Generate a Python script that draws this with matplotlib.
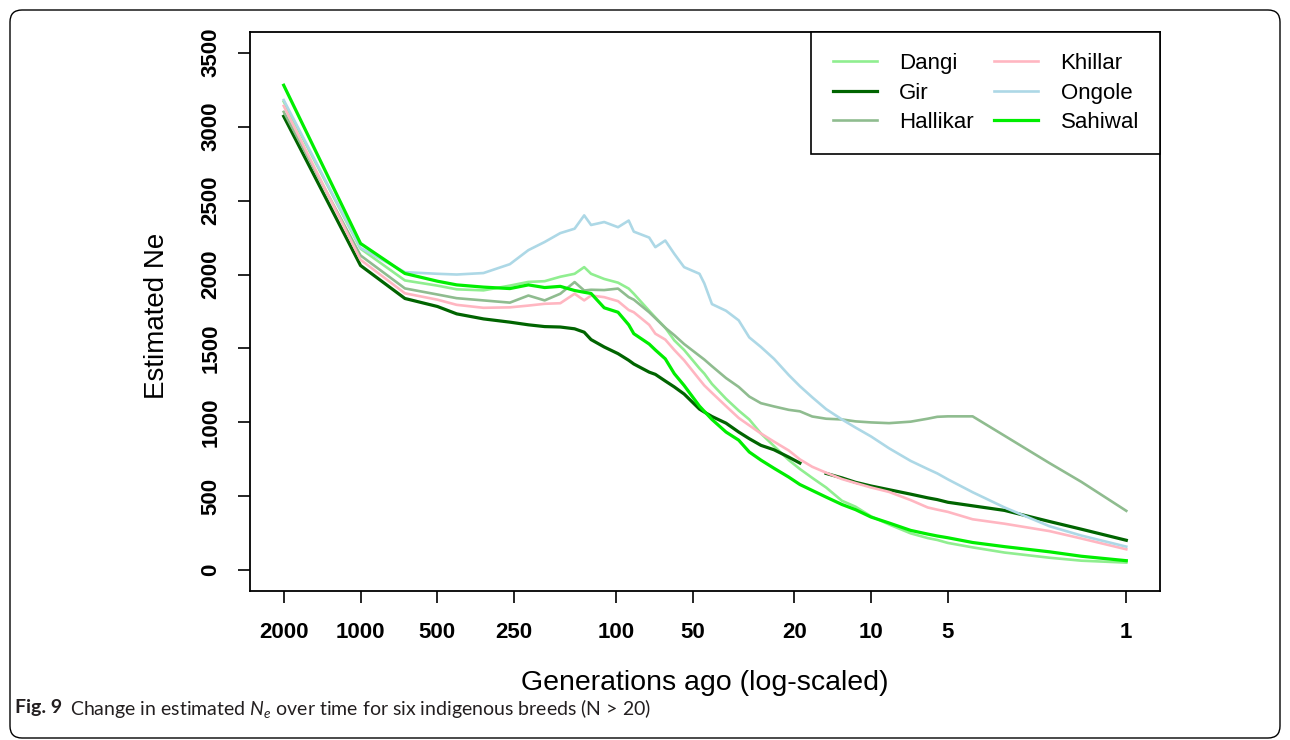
import numpy as np
import matplotlib
matplotlib.use("Agg")
import matplotlib.pyplot as plt
from matplotlib.patches import FancyBboxPatch
from matplotlib.ticker import NullLocator

plt.rcParams['font.family'] = ['Liberation Sans', 'DejaVu Sans']
plt.rcParams['mathtext.fontset'] = 'custom'
plt.rcParams['mathtext.rm'] = 'Lato'
plt.rcParams['mathtext.it'] = 'Lato:italic'

# generations ago
gens = [2000, 1000, 670, 500, 420, 330, 260, 220, 190, 165,
        145, 133, 125, 111, 98, 89, 85, 74, 70, 64,
        59, 54, 47, 45, 42, 37, 33, 30, 27, 24,
        21, 19, 17, 15, 13, 11.5, 10, 8.5, 7, 6,
        5.5, 5, 4, 3, 2, 1.5, 1]

dangi = [3170, 2175, 1960, 1925, 1900, 1893, 1925, 1950, 1955, 1985,
         2005, 2050, 2005, 1970, 1945, 1905, 1870, 1755, 1710, 1640,
         1555, 1490, 1365, 1330, 1260, 1160, 1080, 1020, 925, 840,
         745, 685, 625, 560, 470, 430, 365, 310, 250, 218,
         205, 185, 155, 120, 85, 65, 52]
gir = [3070, 2061, 1838, 1784, 1734, 1700, 1678, 1660, 1648, 1645,
       1633, 1610, 1560, 1510, 1465, 1420, 1395, 1340, 1325, 1280,
       1240, 1192, 1090, 1070, 1040, 995, 935, 890, 845, 815,
       765, 725, np.nan, 655, 625, 595, 570, 545, 515, 490,
       478, 460, 436, 405, 330, 278, 203]
hallikar = [3100, 2129, 1906, 1865, 1840, 1825, 1810, 1858, 1825, 1870,
            1949, 1892, 1897, 1895, 1905, 1847, 1830, 1745, 1705, 1640,
            1590, 1530, 1450, 1425, 1380, 1300, 1240, 1175, 1130, 1108,
            1085, 1075, 1040, 1025, 1020, 1007, 1000, 995, 1005, 1025,
            1038, 1041, 1041, 910, 725, 598, 402]
khillar = [3140, 2100, 1873, 1830, 1795, 1775, 1778, 1790, 1802, 1806,
           1870, 1825, 1858, 1847, 1820, 1760, 1745, 1660, 1600, 1560,
           1490, 1420, 1290, 1250, 1200, 1110, 1030, 980, 925, 870,
           810, 750, 700, 660, 617, 590, 560, 530, 475, 425,
           410, 395, 345, 315, 265, 215, 142]
ongole = [3180, 2180, 2016, 2005, 2000, 2010, 2070, 2165, 2220, 2280,
          2310, 2400, 2335, 2355, 2320, 2365, 2290, 2250, 2185, 2230,
          2140, 2050, 2005, 1940, 1800, 1755, 1690, 1575, 1510, 1430,
          1320, 1245, 1170, 1090, 1020, 965, 905, 825, 740, 685,
          655, 615, 528, 425, 298, 235, 160]
sahiwal = [3280, 2210, 2007, 1955, 1930, 1915, 1905, 1930, 1912, 1920,
           1892, 1880, 1872, 1775, 1745, 1660, 1600, 1530, 1490, 1430,
           1330, 1250, 1110, 1075, 1020, 935, 880, 800, 745, 690,
           630, 580, 540, 495, 445, 410, 360, 320, 270, 245,
           232, 220, 188, 160, 125, 95, 65]

breeds = ['Dangi', 'Gir', 'Hallikar', 'Khillar', 'Ongole', 'Sahiwal']
series = [dangi, gir, hallikar, khillar, ongole, sahiwal]
colors = ['lightgreen', 'darkgreen', 'darkseagreen', 'lightpink', 'lightblue', '#00ee00']
widths = [1.9, 2.3, 1.9, 1.9, 1.9, 2.3]

xticks = [2000, 1000, 500, 250, 100, 50, 20, 10, 5, 1]
yticks = [0, 500, 1000, 1500, 2000, 2500, 3000, 3500]

W, H = 1290, 740
fig = plt.figure(figsize=(W / 100, H / 100), dpi=100)
ax = fig.add_axes([250 / W, 1 - 591 / H, 910 / W, 559 / H])

for name, vals, col, lw in zip(breeds, series, colors, widths):
    ax.plot(gens, vals, color=col, lw=lw, label=name)

# R style 4% padding on each side
ax.set_xscale('log')
lo, hi = np.log10(min(gens)), np.log10(max(gens))
ext = 0.04 * (hi - lo)
ax.set_xlim(10 ** (hi + ext), 10 ** (lo - ext))
ax.set_ylim(-0.04 * 3500, 3500 * 1.04)

ax.set_xticks(xticks)
ax.set_xticklabels([str(t) for t in xticks])
ax.xaxis.set_minor_locator(NullLocator())
ax.set_yticks(yticks)
ax.set_yticklabels([str(t) for t in yticks], rotation=90, va='center')

ax.tick_params(axis='both', direction='out', length=8.5, width=1.2, labelsize=16, colors='black')
ax.tick_params(axis='x', pad=14)
ax.tick_params(axis='y', pad=12)
for lbl in ax.get_xticklabels() + ax.get_yticklabels():
    lbl.set_fontweight('bold')
for sp in ax.spines.values():
    sp.set_linewidth(1.3)

fig.text(705 / W, 1 - 683 / H, 'Generations ago (log-scaled)', fontsize=20.5, ha='center', va='center')
fig.text(157 / W, 1 - 316 / H, 'Estimated Ne', fontsize=20, rotation=90, ha='center', va='center')

leg = ax.legend(ncol=2, loc='upper right', bbox_to_anchor=(1, 1), borderaxespad=0,
                fontsize=16, handlelength=2.0, handletextpad=1.0, columnspacing=0.9,
                labelspacing=0.38, borderpad=0.95, fancybox=False, framealpha=1)
leg.get_frame().set_edgecolor('black')
leg.get_frame().set_linewidth(1.2)

# outer rounded frame
frame = FancyBboxPatch((0.10, 0.02), 12.70, 7.28, boxstyle='round,pad=0,rounding_size=0.12',
                       transform=fig.dpi_scale_trans, fill=False, edgecolor='black', lw=1.0)
fig.add_artist(frame)

# caption
t1 = fig.text(15 / W, 1 - 708 / H, 'Fig. 9', fontsize=14, fontweight='bold',
              family='Lato', va='center', color='#231f20')
fig.canvas.draw()
bb = t1.get_window_extent()
fig.text((bb.x1 + 8) / W, 1 - 708 / H,
         r'Change in estimated $N_e$ over time for six indigenous breeds (N > 20)',
         fontsize=14, family='Lato', va='center', color='#231f20')

fig.savefig('out.png', dpi=100)
